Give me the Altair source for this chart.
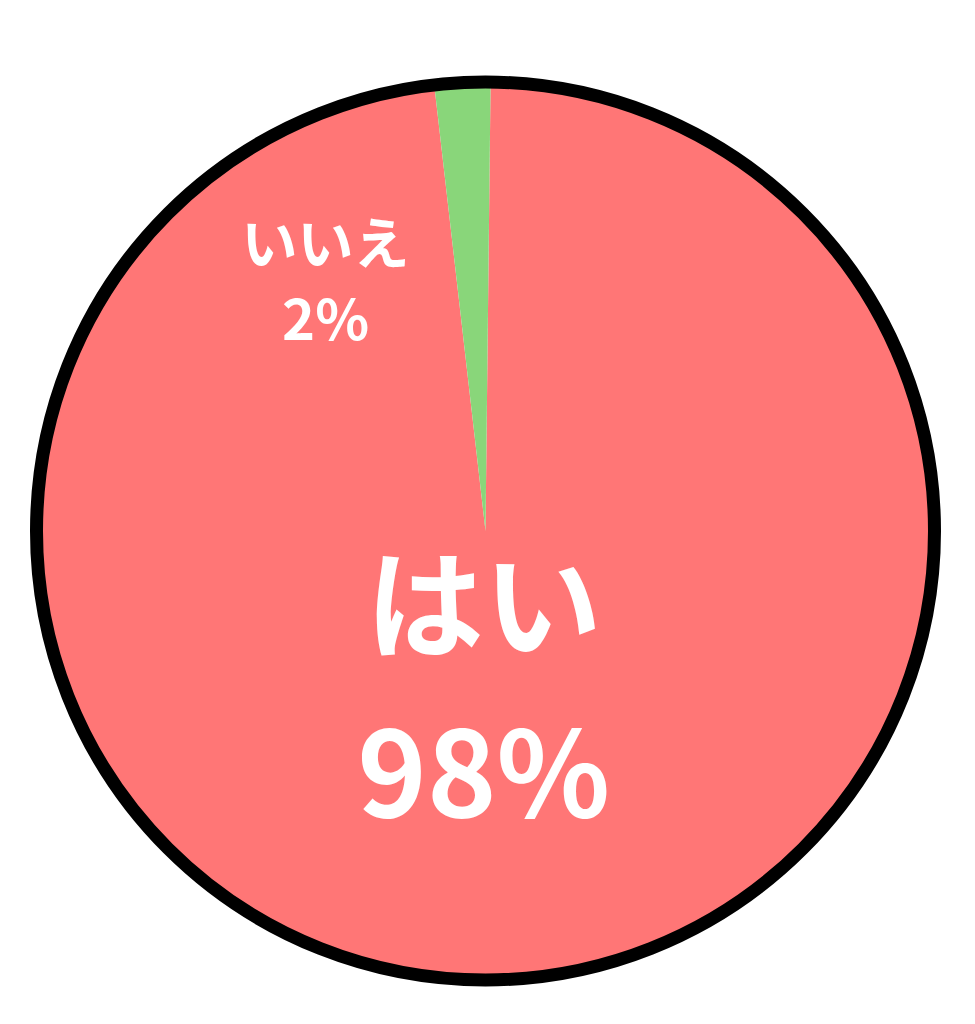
import altair as alt
import pandas as pd

labels = ["はい", "いいえ"]
values = [98, 2]
order_idx = [0, 1]
colors = ["#FF7676", "#89D67A"]

df = pd.DataFrame({"label": labels, "value": values, "idx": order_idx})

CX, CY = 477.5, 523
R = 449
OFF = 0.0113
TAU = 6.283185307179586
theta_scale = alt.Scale(range=[OFF, OFF + TAU])

base = alt.Chart(df).transform_calculate(
    txt="datum.label + '\\n' + datum.value + '%'"
)

pie = base.mark_arc(radius=R, strokeWidth=0).encode(
    theta=alt.Theta("value:Q", stack=True, scale=theta_scale),
    order=alt.Order("idx:Q"),
    color=alt.Color("label:N", scale=alt.Scale(domain=labels, range=colors), legend=None),
    x=alt.value(CX),
    y=alt.value(CY),
)

big = base.transform_filter(alt.datum.label == labels[0]).mark_text(
    radius=83, font="Noto Sans CJK JP", fontWeight="bold", fontSize=118,
    lineHeight=168, lineBreak="\n", color="white", align="center", baseline="middle", dx=-6,
).encode(
    theta=alt.Theta("value:Q", stack=True, scale=theta_scale),
    order=alt.Order("idx:Q"),
    text="txt:N",
    x=alt.value(CX),
    y=alt.value(CY),
)

small = base.transform_filter(alt.datum.label == labels[1]).mark_text(
    radius=285, font="Noto Sans CJK JP", fontWeight="bold", fontSize=56,
    lineHeight=76, lineBreak="\n", color="white", align="center", baseline="middle", dx=-181,
).encode(
    theta=alt.Theta("value:Q", stack=True, scale=theta_scale),
    order=alt.Order("idx:Q"),
    text="txt:N",
    x=alt.value(CX),
    y=alt.value(CY),
)

ring = alt.Chart(pd.DataFrame({"v": [1]})).mark_arc(
    radius=R, theta=0, theta2=TAU, fillOpacity=0, stroke="black", strokeWidth=13
).encode(x=alt.value(CX), y=alt.value(CY))

chart = alt.layer(pie, ring, big, small).resolve_scale(theta="shared").properties(
    width=959, height=1000, padding=0, autosize=alt.AutoSizeParams(type="none")
).configure_view(stroke=None)

chart.save("out.html", embed_options={"renderer": "svg", "actions": False})
